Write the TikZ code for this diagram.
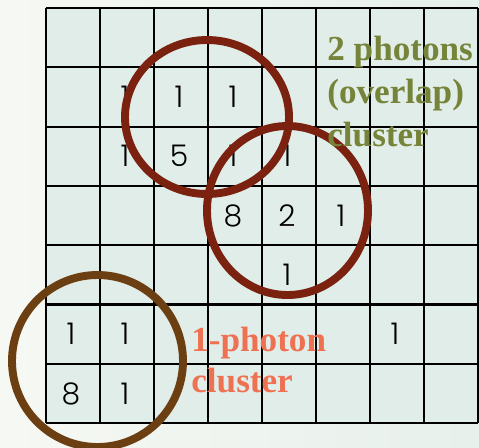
\documentclass[tikz,border=0pt]{standalone}
\usepackage{fontspec}
\setmainfont{Liberation Serif}
\newfontfamily\numfont{Poppins}[UprightFont={* Light}]
\usetikzlibrary{positioning}

\definecolor{cellfill}{HTML}{E1EDE8}
\definecolor{bgleft}{HTML}{F6F8F3}
\definecolor{bgright}{HTML}{E7F0EB}
\definecolor{ringred}{HTML}{7A2110}
\definecolor{ringbrown}{HTML}{6B3F12}
\definecolor{olivetxt}{HTML}{76843A}
\definecolor{salmontxt}{HTML}{EE7152}

\begin{document}
\begin{tikzpicture}[
  x=0.02cm, y=-0.02cm,
  gridline/.style={draw=black, line width=1.2pt},
  num/.style={font=\numfont\fontsize{17}{17}\selectfont, inner sep=0pt},
  ring/.style={line width=4.5pt},
  label2/.style={font=\fontsize{20}{24.2}\selectfont\bfseries, color=olivetxt,
                 align=left, inner sep=0pt},
  label1/.style={font=\fontsize{20}{23.3}\selectfont\bfseries, color=salmontxt,
                 align=left, inner sep=0pt}
]
%% Background and frame of the picture
\shade[left color=bgleft, right color=bgright] (0,0) rectangle (479,447);
\useasboundingbox (0,0) rectangle (479,447);

%% Detector cells: 8 columns x 7 rows
\fill[cellfill] (46,8) rectangle (478,423);
\foreach \i in {0,...,8}
  \draw[gridline] ({46+54*\i},8) -- ({46+54*\i},423);
\foreach \j in {0,...,7}
  \draw[gridline] (46,{8+59.3*\j}) -- (478,{8+59.3*\j});

%% Cell contents (row/column/value)
\foreach \r/\c/\v in {2/2/1, 2/3/1, 2/4/1,
                      3/2/1, 3/3/5, 3/4/1, 3/5/1,
                      4/4/8, 4/5/2, 4/6/1,
                      5/5/1,
                      6/1/1, 6/2/1, 6/7/1,
                      7/1/8, 7/2/1}
  \node[num] (n\r\c) at ({46+54*(\c-0.5)-2}, {8+59.3*(\r-0.5)}) {\v};

%% Cluster rings
\draw[ring, ringred]   (207,117)   ellipse [x radius=82, y radius=77];
\draw[ring, ringred]   (287.5,210.5) ellipse [x radius=80.5, y radius=84.5];
\draw[ring, ringbrown] (97.5,361)  ellipse [x radius=85.5, y radius=86];

%% Labels (base anchor sits on the last line)
\node[label2, anchor=base west] (overlap) at (327,146) {2 photons\\(overlap)\\cluster};
\node[label1, anchor=base west] (single) at (191,392) {1-photon\\cluster};
\end{tikzpicture}
\end{document}
